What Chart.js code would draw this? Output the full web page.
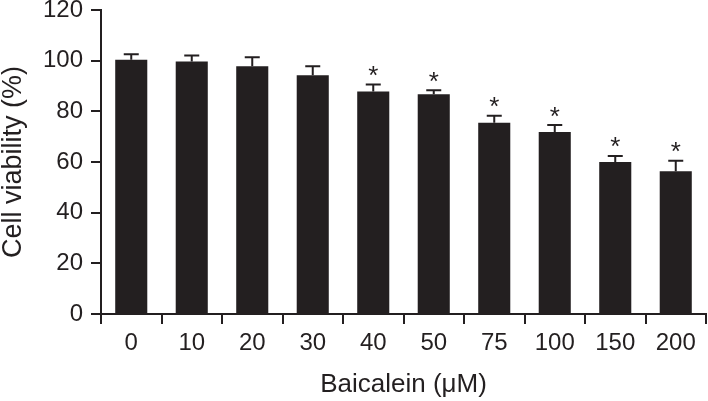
<!DOCTYPE html>
<html>
<head>
<meta charset="utf-8">
<script src="https://cdn.jsdelivr.net/npm/chart.js@4"></script>
<style>
  html, body { margin: 0; padding: 0; background: #fff; }
  #wrap { width: 708px; height: 401px; }
</style>
</head>
<body>
<div id="wrap"><canvas id="viabilityChart" width="708" height="401"></canvas></div>
<script>
/* ===================== DATA ===================== */
const doses = ["0", "10", "20", "30", "40", "50", "75", "100", "150", "200"];
const viability = [100.4, 99.7, 97.8, 94.2, 87.8, 86.7, 75.5, 71.8, 60.0, 56.3];
const errorSD = [2.1, 2.3, 3.5, 3.6, 2.8, 1.6, 2.8, 2.8, 2.4, 4.2];
const significant = [false, false, false, false, true, true, true, true, true, true];
const yTicks = [0, 20, 40, 60, 80, 100, 120];

const INK = "#231f20";
const FONT = "'Liberation Sans', Arial, sans-serif";

/* ===================== ERROR BARS + ASTERISKS ===================== */
const errorBarPlugin = {
  id: "errorBars",
  afterDatasetsDraw(chart) {
    const ctx = chart.ctx;
    const y = chart.scales.y;
    const bars = chart.getDatasetMeta(0).data;
    ctx.save();
    ctx.strokeStyle = INK;
    ctx.fillStyle = INK;
    ctx.lineWidth = 2;
    bars.forEach((bar, i) => {
      const top = y.getPixelForValue(viability[i] + errorSD[i]);
      const base = y.getPixelForValue(viability[i]);
      ctx.beginPath();
      ctx.moveTo(bar.x, base);
      ctx.lineTo(bar.x, top);
      ctx.moveTo(bar.x - 7.5, top);
      ctx.lineTo(bar.x + 7.5, top);
      ctx.stroke();
      if (significant[i]) {
        ctx.font = "26px " + FONT;
        ctx.textAlign = "center";
        ctx.textBaseline = "alphabetic";
        ctx.fillText("*", bar.x, top - 0.5);
      }
    });
    ctx.restore();
  }
};

/* ===================== CHART ===================== */
new Chart(document.getElementById("viabilityChart"), {
  type: "bar",
  data: {
    labels: doses,
    datasets: [{
      data: viability,
      backgroundColor: INK,
      borderWidth: 0,
      barPercentage: 0.53,
      categoryPercentage: 1
    }]
  },
  options: {
    responsive: false,
    animation: false,
    layout: { padding: { top: 10, right: 2, left: 0, bottom: 0 } },
    plugins: { legend: { display: false }, tooltip: { enabled: false } },
    scales: {
      x: {
        offset: true,
        grid: { offset: true, drawOnChartArea: false, color: INK, lineWidth: 2, tickLength: 10 },
        border: { color: INK, width: 2 },
        ticks: { color: INK, font: { family: FONT, size: 24 }, padding: 5, maxRotation: 0 },
        title: {
          display: true,
          text: "Baicalein (\u03bcM)",
          color: INK,
          font: { family: FONT, size: 26 },
          padding: { top: 0, bottom: 1 }
        },
        afterFit(scale) {
          scale.height = 87;
          scale.paddingLeft = 0;
          scale.paddingRight = 0;
        }
      },
      y: {
        min: 0,
        max: 120,
        afterBuildTicks(scale) { scale.ticks = yTicks.map(v => ({ value: v })); },
        grid: { drawOnChartArea: false, color: INK, lineWidth: 2, tickLength: 10 },
        border: { color: INK, width: 2 },
        ticks: { color: INK, font: { family: FONT, size: 24 }, padding: 8 },
        title: {
          display: true,
          text: "Cell viability (%)",
          color: INK,
          font: { family: FONT, size: 27 },
          padding: { top: -3, bottom: 0 }
        },
        afterFit(scale) {
          scale.width = 101;
          scale.paddingTop = 0;
          scale.paddingBottom = 0;
        }
      }
    }
  },
  plugins: [errorBarPlugin]
});
</script>
</body>
</html>
